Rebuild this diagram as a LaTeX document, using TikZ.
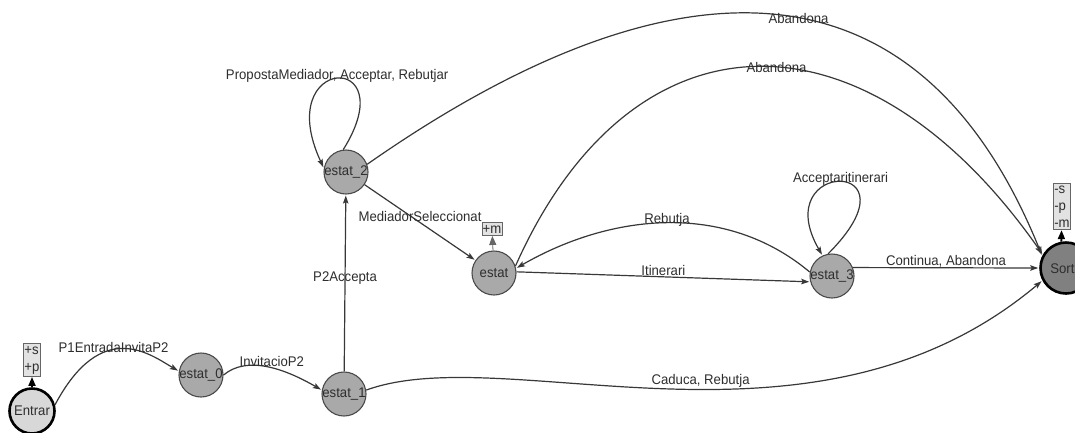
\documentclass[tikz,border=0pt]{standalone}
\usepackage{fontspec}
\setmainfont{Liberation Sans}[FakeStretch=0.94]
\usepackage{tikz}
\usetikzlibrary{arrows, arrows.meta}

\definecolor{statefill}{HTML}{A9A9A9}
\definecolor{stateline}{HTML}{4A4A4A}
\definecolor{startfill}{HTML}{D8D8D8}
\definecolor{finalfill}{HTML}{808080}
\definecolor{tagfill}{HTML}{E2E2E2}
\definecolor{tagline}{HTML}{666666}
\definecolor{edgeline}{HTML}{383838}
\definecolor{labeltext}{HTML}{2E2E2E}

\tikzset{
	state/.style={circle, draw=stateline, fill=statefill, line width=1.1pt,
		minimum size=44pt, inner sep=0pt},
	start/.style={state, draw=black, fill=startfill, line width=2.6pt, minimum size=45pt},
	final/.style={state, draw=black, fill=finalfill, line width=2.6pt, minimum size=51pt},
	tag/.style={rectangle, draw=tagline, fill=tagfill, line width=0.8pt,
		inner xsep=0.6pt, inner ysep=2.5pt, align=left},
	tagtip/.style={shorten >=0pt, -{Triangle[length=9pt, width=7pt]}}
}

\begin{document}
\begin{tikzpicture}[->,
				>={Stealth[length=8pt, width=5.5pt, inset=1.5pt]},
				shorten >=1pt,
				x=1pt, y=1pt,
				line width=1.2pt,
				draw=edgeline,
				text=labeltext,
				font=\fontsize{14}{17}\selectfont]
				\useasboundingbox (0,0) rectangle (1075,-432);
				\clip (0,0) rectangle (1075,-432);
				\fill[white] (0,0) rectangle (1075,-432);
				\node[start, label=center:Entrar] at (32,-411) (entrar) {};
				\node[state, label=center:estat\_0] at (201,-375) (e0) {};
				\node[state, label=center:estat\_1] at (344,-394) (e1) {};
				\node[state, label=center:estat\_2] at (346,-172) (e2) {};
				\node[state, label=center:estat] at (494,-273) (estat) {};
				\node[state, label=center:estat\_3] at (832,-276) (e3) {};
				\node[final, label=center:Sortir] at (1066,-268) (sortir) {};
				\node[tag] at (32,-360) (tentrar) {+s\\+p};
				\node[tag] at (492,-229) (testat) {+m};
				\node[tag] at (1062,-206.5) (tsortir) {-s\\-p\\-m};
				\draw[tagtip, black, line width=1.8pt] (entrar) -- (tentrar);
				\draw[tagtip, tagline, line width=0.8pt] (estat) -- (testat);
				\draw[tagtip, black, line width=1.8pt] (sortir.100) -- (tsortir);
				\draw[->] (entrar.15) .. controls +(62:100) and +(150:32) .. node[pos=0.42, yshift=2pt] {P1EntradaInvitaP2} (e0.170);
				\draw[->] (e0.0) .. controls +(40:30) and +(150:45) .. node[pos=0.55, above, inner sep=0.5pt] {InvitacioP2} (e1.170);
				\draw[->] (e1) -- node[pos=0.53] {P2Accepta} (e2);
				\draw[->] (e2.97) .. controls +(58:118) and +(115:125) .. node[pos=0.5, yshift=3pt] {PropostaMediador, Acceptar, Rebutjar} (e2.170);
				\draw[->] (e2) -- node[midway, yshift=6pt] {MediadorSeleccionat} (estat);
				\draw[->] (e2.20) .. controls +(35:315) and +(112:370) .. node[pos=0.57] {Abandona} (sortir.153);
				\draw[->] (estat.18) .. controls +(66:287) and +(125:309) .. node[pos=0.535] {Abandona} (sortir.150);
				\draw[->] (e3.170) .. controls +(140:110) and +(30:110) .. node[pos=0.5, yshift=3.5pt] {Rebutja} (estat.12);
				\draw[->] (estat.3) -- node[midway, yshift=6.5pt] {Itinerari} (e3.195);
				\draw[->] (e3.100) .. controls +(45:137) and +(120:112) .. node[pos=0.5, yshift=3pt] {Acceptaritinerari} (e3.115);
				\draw[->] (e3.22) -- node[midway, yshift=6pt] {Continua, Abandona} (sortir.west);
				\draw[->] (e1.10) .. controls +(20:150) and +(220:300) .. node[pos=0.54, above, inner sep=1pt] {Caduca, Rebutja} (sortir.208);
			\end{tikzpicture}
\end{document}
